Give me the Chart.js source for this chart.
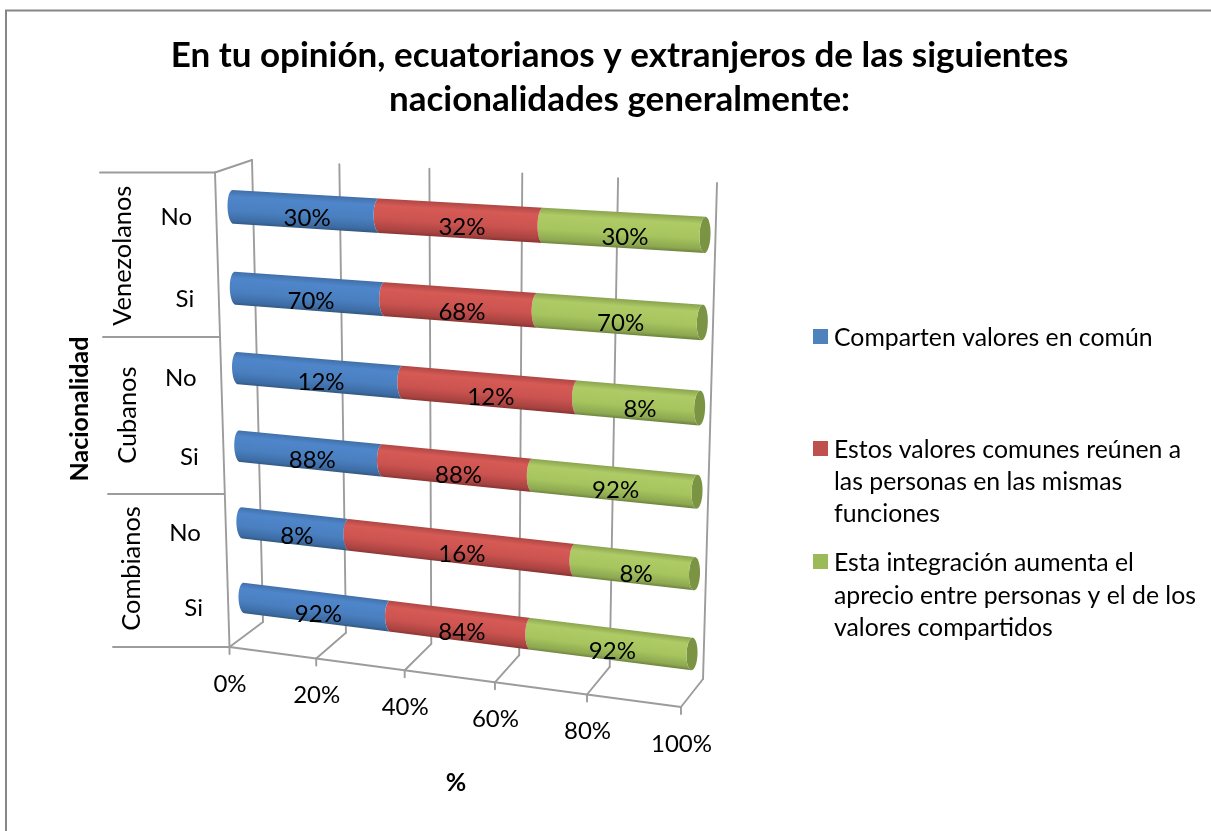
<!DOCTYPE html>
<html><head><meta charset="utf-8">
<style>html,body{margin:0;padding:0;background:#fff}canvas{display:block}</style>
<script src="https://cdn.jsdelivr.net/npm/chart.js@4"></script></head>
<body><canvas id="c" width="1211" height="831"></canvas>
<script>
const titleLines=['En tu opinión, ecuatorianos y extranjeros de las siguientes','nacionalidades generalmente:'];
const categories=['No','Si','No','Si','No','Si'];
const groups=['Venezolanos','Cubanos','Combianos'];
const comparten=[30,70,12,88,8,92];
const estosValores=[32,68,12,88,16,84];
const estaIntegracion=[30,70,8,92,8,92];
const seriesNames=['Comparten valores en común','Estos valores comunes reúnen a las personas en las mismas funciones','Esta integración aumenta el aprecio entre personas y el de los valores compartidos'];
const legendLines=[['Comparten valores en común'],['Estos valores comunes reúnen a','las personas en las mismas','funciones'],['Esta integración aumenta el','aprecio entre personas y el de los','valores compartidos']];
const xTicks=[0,20,40,60,80,100];
const xTitle='%', yTitle='Nacionalidad';

const FONT='Lato, Carlito, sans-serif';
const swatch=['#4f81bd','#c0504d','#9bbb59'];
const shade=[
 ['#4170a8','#4f86cb','#4a80c0','#3d6ca5','#33597f'],
 ['#ae4643','#d65a56','#cb534f','#a84341','#8a3533'],
 ['#8aa34f','#aecb66','#a7c55f','#8da850','#6e843f']];
const capColor=['#3a659b','#a23e3b','#7a9444'];
const gridColor='#9c9c9c';

// view projection (camera of the 3D plot): plane corners on screen
const barQuad=[[233,207],[705,235],[692,654],[244,598]];
const wallQuad=[[252,160],[717,183],[703,679],[263,622]];
const floorQuad=[[263,622],[703,679],[681,707],[229.5,647]];
function homography(q){
 const [[x0,y0],[x1,y1],[x2,y2],[x3,y3]]=q;
 const dx1=x1-x2,dx2=x3-x2,dx3=x0-x1+x2-x3,dy1=y1-y2,dy2=y3-y2,dy3=y0-y1+y2-y3;
 const det=dx1*dy2-dx2*dy1,g=(dx3*dy2-dx2*dy3)/det,h=(dx1*dy3-dx3*dy1)/det;
 const a=x1-x0+g*x1,b=x3-x0+h*x3,d=y1-y0+g*y1,e=y3-y0+h*y3;
 return (u,v)=>{const w=g*u+h*v+1;return [(a*u+b*v+x0)/w,(d*u+e*v+y0)/w];};
}
const Hbar=homography(barQuad),Hwall=homography(wallQuad),Hfloor=homography(floorQuad);

function toPercent(arrs,i){const t=arrs.reduce((s,a)=>s+a[i],0);return arrs.map(a=>a[i]/t*100);}
const rawSeries=[comparten,estosValores,estaIntegracion];
const pct=rawSeries.map((a,k)=>a.map((_,i)=>toPercent(rawSeries,i)[k]));

const scene={
 id:'scene',
 afterLayout(chart){chart.titleBlock.left=28;chart.titleBlock.right=chart.width;chart.titleBlock.width=chart.width-28;},
 beforeDraw(chart){
  const c=chart.ctx;c.save();
  c.fillStyle='#fff';c.fillRect(0,0,chart.width,chart.height);
  c.strokeStyle='#868686';c.lineWidth=2;
  c.beginPath();c.moveTo(6,chart.height);c.lineTo(6,10.5);c.lineTo(chart.width,10.5);c.stroke();
  c.restore();
 },
 beforeDatasetsDraw(chart){
  const c=chart.ctx,xs=chart.scales.x;
  const U=v=>(xs.getPixelForValue(v)-xs.getPixelForValue(0))/(xs.getPixelForValue(100)-xs.getPixelForValue(0));
  c.save();c.strokeStyle=gridColor;c.lineWidth=1.9;c.lineCap='round';
  const line=(a,b)=>{c.beginPath();c.moveTo(a[0],a[1]);c.lineTo(b[0],b[1]);c.stroke();};
  xTicks.forEach(t=>{
   const u=U(t),top=Hwall(u,0),bot=Hwall(u,1),fr=Hfloor(u,1);
   line(top,bot);line(bot,fr);line(fr,[fr[0],fr[1]+7]);
  });
  const f0=Hfloor(0,1),f1=Hfloor(1,1);line(f0,f1);
  // side wall and group separators
  const sideTop=[215,172.5];
  line(sideTop,wallQuad[0]);line(sideTop,f0);
  [[100,172.5,215],[103,337,219.5],[108,494,224],[113,647,229]].forEach(s=>line([s[0],s[1]],[s[2],s[1]]));
  c.restore();
 },
 beforeDatasetDraw(chart,args){
  const c=chart.ctx,xs=chart.scales.x,ys=chart.scales.y,k=args.index;
  const x0=xs.getPixelForValue(0),x1=xs.getPixelForValue(100),y0=ys.getPixelForValue(0),y5=ys.getPixelForValue(categories.length-1);
  const P=(x,y)=>Hbar((x-x0)/(x1-x0),(y-y0)/(y5-y0));
  const rx=5.5;
  args.meta.data.forEach((bar,i)=>{
   const a=bar.base,b=bar.x,ym=bar.y,hh=bar.height/2,N=24;
   const pts=[];
   for(let j=0;j<=N;j++){const t=-Math.PI/2+Math.PI*j/N;const p=P(a,ym+hh*Math.sin(t));pts.push([p[0]-rx*Math.cos(t),p[1]]);}
   for(let j=N;j>=0;j--){const t=-Math.PI/2+Math.PI*j/N;const p=P(b,ym+hh*Math.sin(t));pts.push([p[0]-rx*Math.cos(t),p[1]]);}
   // shading runs across the cylinder, perpendicular to its sloped axis
   const mt=P((a+b)/2,ym-hh),mb=P((a+b)/2,ym+hh),ea=P(a,ym),eb=P(b,ym);
   const ax=eb[0]-ea[0],ay=eb[1]-ea[1],al=Math.hypot(ax,ay),nx=-ay/al,ny=ax/al;
   const len=(mb[0]-mt[0])*nx+(mb[1]-mt[1])*ny,mx=(mt[0]+mb[0])/2,my=(mt[1]+mb[1])/2;
   const g=c.createLinearGradient(mx-nx*len/2,my-ny*len/2,mx+nx*len/2,my+ny*len/2);
   [0,.2,.6,.9,1].forEach((s,n)=>g.addColorStop(s,shade[k][n]));
   c.save();
   if(k===rawSeries.length-1){
    // end cap of the cylinder (drawn first, outline bulges right)
    c.beginPath();
    for(let j=0;j<=2*N;j++){const t=-Math.PI/2+Math.PI*j/N;const p=P(b,ym+hh*Math.sin(t));const q=[p[0]+rx*Math.cos(t),p[1]];j?c.lineTo(q[0],q[1]):c.moveTo(q[0],q[1]);}
    c.closePath();c.fillStyle=capColor[k];c.fill();
   }
   c.beginPath();pts.forEach((p,j)=>j?c.lineTo(p[0],p[1]):c.moveTo(p[0],p[1]));c.closePath();
   c.fillStyle=g;c.fill();
   c.restore();
  });
  return false;
 },
 afterDatasetsDraw(chart){
  const c=chart.ctx,xs=chart.scales.x,ys=chart.scales.y;
  const x0=xs.getPixelForValue(0),x1=xs.getPixelForValue(100),y0=ys.getPixelForValue(0),y5=ys.getPixelForValue(categories.length-1);
  const P=(x,y)=>Hbar((x-x0)/(x1-x0),(y-y0)/(y5-y0));
  const U=v=>(xs.getPixelForValue(v)-x0)/(x1-x0);
  c.save();c.fillStyle='#000';c.textBaseline='middle';
  // data labels
  c.font='24px '+FONT;c.textAlign='center';
  chart.data.datasets.forEach((ds,k)=>{
   chart.getDatasetMeta(k).data.forEach((bar,i)=>{
    const p=P((bar.base+bar.x)/2,bar.y);
    c.fillText(rawSeries[k][i]+'%',p[0]+2,p[1]+7);
   });
  });
  // x ticks
  xTicks.forEach(t=>{const p=Hfloor(U(t),1);c.fillText(t+'%',p[0]+.5,p[1]+37);});
  // category labels
  c.textAlign='right';
  c.font='24px '+FONT;
  categories.forEach((lab,i)=>{const p=P(x0,ys.getPixelForValue(i));c.fillText(lab,p[0]-41,p[1]+10.5);});
  // group labels
  c.textAlign='center';c.font='25.4px '+FONT;
  groups.forEach((g,i)=>{
   const a=P(x0,ys.getPixelForValue(i*2)),b=P(x0,ys.getPixelForValue(i*2+1));
   c.save();c.translate((a[0]+b[0])/2-111,(a[1]+b[1])/2+8);c.rotate(-Math.PI/2);c.fillText(g,0,0);c.restore();
  });
  // axis titles
  c.font='bold 25px '+FONT;
  c.fillText(xTitle,456,783);
  c.save();c.translate(80,409);c.rotate(-Math.PI/2);c.fillText(yTitle,0,0);c.restore();
  // legend
  c.textAlign='left';c.font='24.8px '+FONT;
  const ly=[[337],[449,481,513],[562,595,627]];
  legendLines.forEach((ls,k)=>{
   c.fillStyle=swatch[k];c.fillRect(813,ly[k][0]-8,15,15);
   c.fillStyle='#000';
   ls.forEach((l,n)=>c.fillText(l,834,ly[k][n]+1));
  });
  c.restore();
 }
};

new Chart(document.getElementById('c'),{
 type:'bar',
 plugins:[scene],
 data:{labels:categories,datasets:rawSeries.map((_,k)=>({label:seriesNames[k],data:pct[k],backgroundColor:swatch[k],categoryPercentage:1,barPercentage:.41}))},
 options:{
  indexAxis:'y',responsive:false,animation:false,
  layout:{padding:{left:230,right:506,top:0,bottom:180}},
  plugins:{
   legend:{display:false},tooltip:{enabled:false},
   title:{display:true,text:titleLines,color:'#000',padding:{top:33,bottom:30},font:{family:FONT,size:35,weight:'bold',lineHeight:1.27}}
  },
  scales:{
   x:{display:false,stacked:true,min:0,max:100},
   y:{display:false,stacked:true}
  }
 }
});
</script></body></html>
